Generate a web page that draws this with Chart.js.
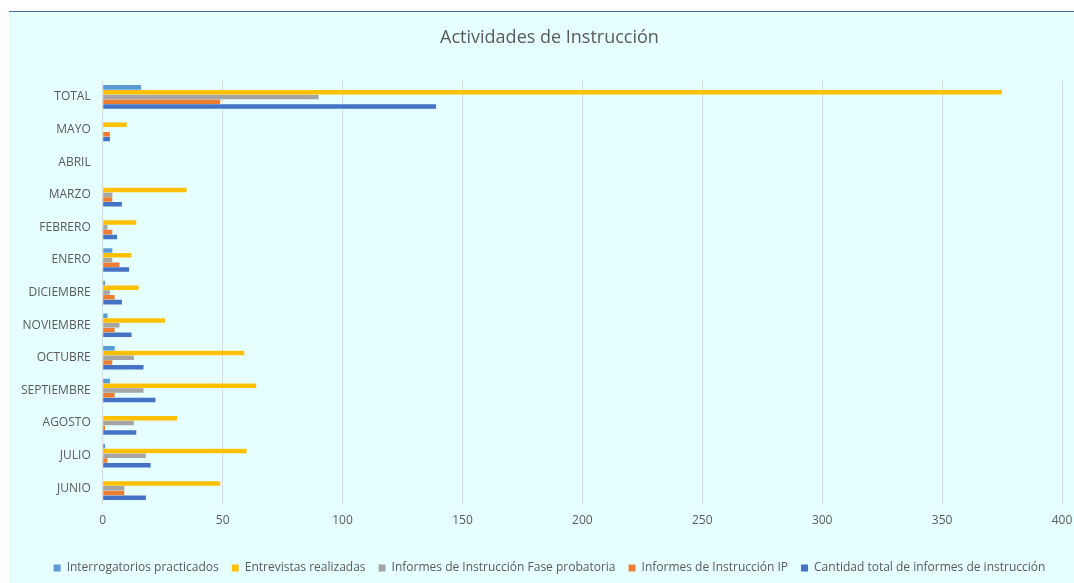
<!DOCTYPE html>
<html>
<head>
<meta charset="utf-8">
<script src="https://cdn.jsdelivr.net/npm/chart.js@4"></script>
<style>
  body { margin: 0; background: #fff; overflow: hidden; }
  #wrap {
    position: absolute; left: 9px; top: 11px;
    width: 1080px; height: 572px;
    background: #e6ffff;
    border-top: 1px solid #5470a0;
  }
</style>
</head>
<body>
<div id="wrap"><canvas id="chart"></canvas></div>
<script>
// categories top to bottom
const categories = ['TOTAL', 'MAYO', 'ABRIL', 'MARZO', 'FEBRERO', 'ENERO', 'DICIEMBRE',
  'NOVIEMBRE', 'OCTUBRE', 'SEPTIEMBRE', 'AGOSTO', 'JULIO', 'JUNIO'];

const interrogatorios = [16, 0, 0, 0, 0, 4, 1, 2, 5, 3, 0, 1, 0];
const entrevistas     = [375, 10, 0, 35, 14, 12, 15, 26, 59, 64, 31, 60, 49];
const faseProbatoria  = [90, 0, 0, 4, 2, 4, 3, 7, 13, 17, 13, 18, 9];
const informesIP      = [49, 3, 0, 4, 4, 7, 5, 5, 4, 5, 1, 2, 9];
const cantidadTotal   = [139, 3, 0, 8, 6, 11, 8, 12, 17, 22, 14, 20, 18];

const xTicks = [0, 50, 100, 150, 200, 250, 300, 350, 400];

const font = '"Open Sans", sans-serif';
const grey = '#595959';

function ds(label, data, color) {
  return {
    label: label,
    data: data,
    backgroundColor: color,
    borderWidth: 0,
    categoryPercentage: 0.73,
    barPercentage: 0.95
  };
}

// the right padding pushes title and legend left, move them back to centre
const recentre = {
  id: 'recentre',
  afterLayout(chart) {
    chart.titleBlock.left += 28;
    chart.legend.left += 28;
  }
};

new Chart(document.getElementById('chart'), {
  type: 'bar',
  data: {
    labels: categories,
    datasets: [
      ds('Interrogatorios practicados', interrogatorios, '#5b9bd5'),
      ds('Entrevistas realizadas', entrevistas, '#ffc000'),
      ds('Informes de Instrucción Fase probatoria', faseProbatoria, '#a5a5a5'),
      ds('Informes de Instrucción IP', informesIP, '#ed7d31'),
      ds('Cantidad total de informes de instrucción', cantidadTotal, '#4472c4')
    ]
  },
  plugins: [recentre],
  options: {
    indexAxis: 'y',
    responsive: true,
    maintainAspectRatio: false,
    animation: false,
    layout: { padding: { left: 0, right: 27, top: 11, bottom: 0 } },
    plugins: {
      title: {
        display: true,
        text: 'Actividades de Instrucción',
        color: grey,
        font: { family: font, size: 18, weight: 'normal' },
        padding: { top: 4, bottom: 32 }
      },
      legend: {
        position: 'bottom',
        labels: {
          color: grey,
          font: { family: font, size: 12 },
          boxWidth: 7,
          boxHeight: 7,
          padding: 13
        }
      },
      tooltip: { enabled: false }
    },
    scales: {
      x: {
        min: 0,
        max: 400,
        afterBuildTicks: axis => { axis.ticks = xTicks.map(v => ({ value: v })); },
        afterFit: axis => { axis.height += 12; },
        grid: { color: '#d9d9d9', drawTicks: false },
        border: { display: false },
        ticks: { color: grey, font: { family: font, size: 12 }, padding: 9 }
      },
      y: {
        grid: { display: false, drawTicks: false },
        border: { color: '#d9d9d9' },
        ticks: { color: grey, font: { family: font, size: 12 }, padding: 12 }
      }
    }
  }
});
</script>
</body>
</html>
